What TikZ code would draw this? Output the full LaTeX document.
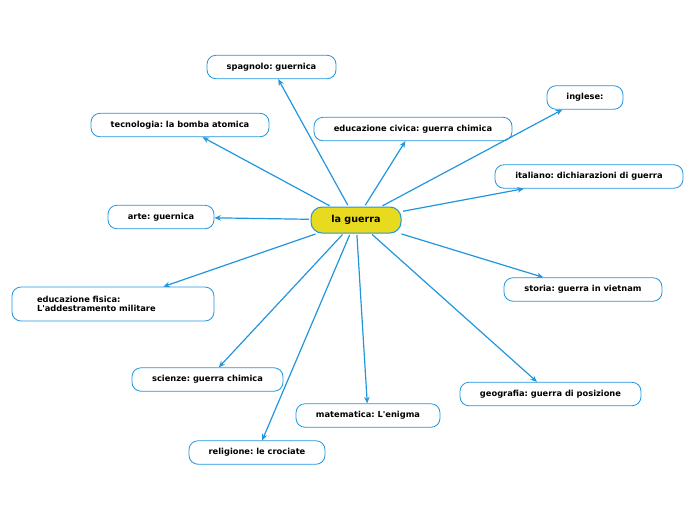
\documentclass[tikz,border=0pt]{standalone}
\usepackage{fontspec}
\setmainfont{DejaVu Sans}
\usetikzlibrary{arrows.meta}
\definecolor{linkblue}{HTML}{2196DF}
\definecolor{hubyellow}{HTML}{E8DA1E}
\frenchspacing
\tikzset{
	topic/.style={draw=linkblue, line width=0.8pt, rounded corners=9pt, fill=white,
		minimum height=23.5pt, inner sep=0pt, font=\fontsize{8.3}{9.6}\selectfont\bfseries},
	hub/.style={topic, fill=hubyellow, rounded corners=11pt, minimum height=26pt,
		minimum width=90pt, line width=1pt, font=\fontsize{9.6}{11}\selectfont\bfseries},
	link/.style={draw=linkblue, line width=1.2pt, shorten <=1.5pt, -{Stealth[length=6.5pt,width=5.5pt]}}
}
\begin{document}
\begin{tikzpicture}[x=1pt, y=-1pt]
		%%%%% START %%%%%
		\useasboundingbox (0, 0) rectangle (696, 520);
		
		\node[hub] (guerra) at (356, 220) {la guerra};
		
		\node[topic, minimum width=129pt] (spagnolo) at (271.5, 67) {spagnolo: guernica};
		\node[topic, minimum width=178pt] (tecnologia) at (180, 125) {tecnologia: la bomba atomica};
		\node[topic, minimum width=198pt] (civica) at (413, 129) {educazione civica: guerra chimica};
		\node[topic, minimum width=76pt] (inglese) at (585, 97.5) {inglese:};
		\node[topic, minimum width=188pt] (italiano) at (589, 176.5) {italiano: dichiarazioni di guerra};
		\node[topic, minimum width=106pt] (arte) at (161, 217) {arte: guernica};
		\node[topic, minimum height=34pt, text width=152pt, inner xsep=25pt, align=left] (fisica) at (113, 304) {educazione fisica:\\L\textquotesingle addestramento militare};
		\node[topic, minimum width=158pt] (storia) at (583, 289.5) {storia: guerra in vietnam};
		\node[topic, minimum width=151pt] (scienze) at (207.5, 379.5) {scienze: guerra chimica};
		\node[topic, minimum width=181pt] (geografia) at (550.5, 394) {geografia: guerra di posizione};
		\node[topic, minimum width=144pt] (matematica) at (368, 415.5) {matematica: L\textquotesingle enigma};
		\node[topic, minimum width=136pt] (religione) at (257, 452.5) {religione: le crociate};
		
		% links from the hub
		\foreach \t in {spagnolo, tecnologia, civica, inglese, italiano, arte,
			fisica, storia, scienze, geografia, matematica, religione}
			\draw[link] (guerra) -- (\t);
		
		%%%%% END %%%%%
	\end{tikzpicture}
\end{document}
